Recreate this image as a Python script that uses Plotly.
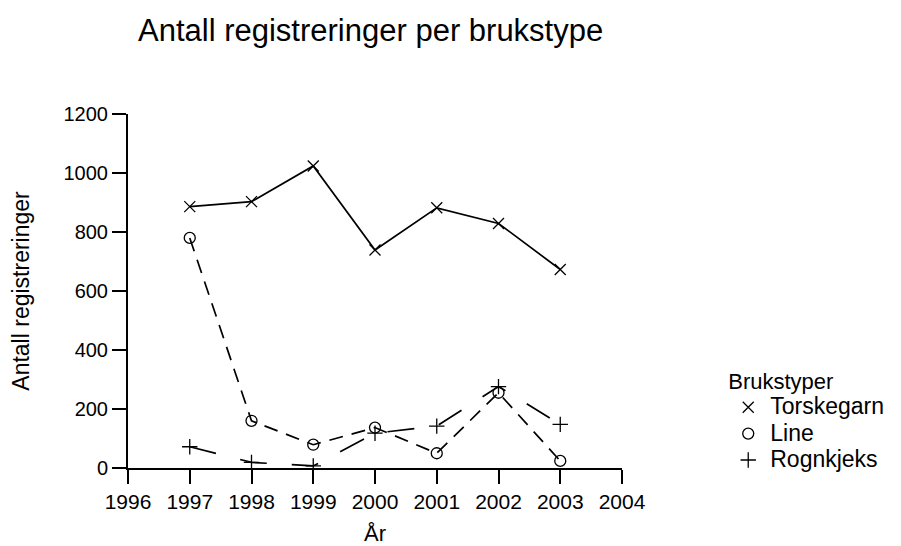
"""Antall registreringer per brukstype, 1997-2003."""

import plotly.graph_objects as go

years = [1997, 1998, 1999, 2000, 2001, 2002, 2003]
torskegarn = [886, 903, 1024, 739, 882, 829, 673]
line = [780, 160, 79, 137, 50, 255, 24]
rognkjeks = [72, 19, 7, 118, 142, 276, 148]

x_ticks = list(range(1996, 2005))
y_ticks = [0, 200, 400, 600, 800, 1000, 1200]

_INK = "black"
_FONT = "Liberation Sans, Arial, sans-serif"

series = [
    ("Torskegarn", torskegarn, "x-thin", "solid"),
    ("Line", line, "circle-open", "14px,9px"),
    ("Rognkjeks", rognkjeks, "cross-thin", "27px,25px"),
]

fig = go.Figure()
for name, values, symbol, dash in series:
    marker = dict(symbol=symbol, size=11, color=_INK,
                  line=dict(color=_INK, width=1.3))
    fig.add_trace(
        go.Scatter(
            x=years, y=values, name=name, mode="lines+markers",
            line=dict(color=_INK, width=1.7, dash=dash),
            marker=marker, showlegend=False,
        )
    )
    # legend entry shows only the symbol, like the original
    fig.add_trace(
        go.Scatter(
            x=[None], y=[None], mode="markers",
            name=f'<span style="font-size:23px">{name}</span>',
            marker=marker,
        )
    )

axis_style = dict(
    showline=True, linecolor=_INK, linewidth=2,
    ticks="outside", ticklen=14, tickwidth=1.6, tickcolor=_INK,
    showgrid=False, zeroline=False, automargin=False,
)

fig.update_xaxes(
    range=[1996, 2004], tickvals=x_ticks,
    tickfont=dict(size=21, color=_INK),
    title=dict(text="År", font=dict(size=22, color=_INK), standoff=18),
    **axis_style,
)
fig.update_yaxes(
    range=[0, 1200], tickvals=y_ticks,
    tickfont=dict(size=20, color=_INK),
    title=dict(text="Antall registreringer", font=dict(size=23, color=_INK), standoff=28),
    **axis_style,
)

fig.update_layout(
    width=893, height=538,
    margin=dict(l=120, r=276, t=106, b=78),
    paper_bgcolor="white", plot_bgcolor="white",
    font=dict(family=_FONT, color=_INK),
    title=dict(
        text="Antall registreringer per brukstype",
        font=dict(size=31, color=_INK),
        xref="container", x=130 / 893, xanchor="left",
        yref="container", y=1 - 22 / 538, yanchor="middle",
    ),
    legend=dict(
        title=dict(text="Brukstyper", font=dict(size=22)),
        font=dict(size=18),
        x=1.211, xanchor="left", y=0.304, yanchor="top",
        bgcolor="rgba(0,0,0,0)", itemwidth=34,
        tracegroupgap=0,
    ),
)

fig.write_html("out.html")
